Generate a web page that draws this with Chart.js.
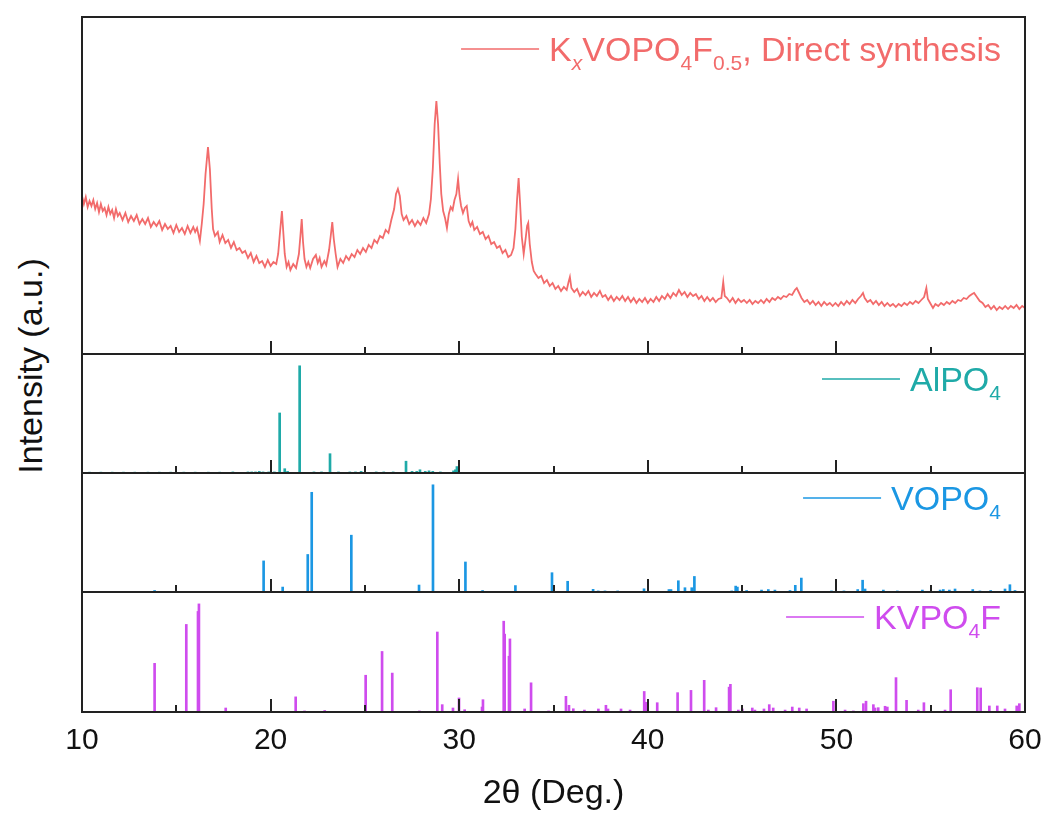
<!DOCTYPE html>
<html lang="en">
<head>
<meta charset="UTF-8">
<title>XRD patterns</title>
<script src="https://cdn.jsdelivr.net/npm/chart.js"></script>
<style>
  body { margin: 0; background: #fff; }
  #wrap { position: relative; width: 1051px; height: 821px; overflow: hidden; background: #fff; }
  #wrap canvas { position: absolute; }
  #ytitle {
    position: absolute; left: 30px; top: 366px;
    transform: translate(-50%, -50%) rotate(-90deg);
    font: 34px Arial, "Liberation Sans", sans-serif; color: #111; white-space: nowrap;
  }
</style>
</head>
<body>
<div id="wrap">
  <canvas id="c1" width="998" height="357" style="left:52px; top:7px"></canvas>
  <canvas id="c2" width="998" height="139" style="left:52px; top:344px"></canvas>
  <canvas id="c3" width="998" height="139" style="left:52px; top:463px"></canvas>
  <canvas id="c4" width="1010" height="239" style="left:52px; top:582px"></canvas>
  <div id="ytitle">Intensity (a.u.)</div>
</div>
<script>
// measured pattern, KxVOPO4F0.5 (direct synthesis)
var xrdTheta = [
  10.0, 10.1, 10.2, 10.3, 10.4, 10.5, 10.6, 10.7, 10.8, 10.9,
  11.0, 11.1, 11.2, 11.3, 11.4, 11.5, 11.6, 11.7, 11.8, 11.9,
  12.0, 12.15, 12.3, 12.45, 12.6, 12.75, 12.9, 13.05, 13.2, 13.35,
  13.5, 13.65, 13.8, 13.95, 14.1, 14.25, 14.4, 14.55, 14.7, 14.85,
  15.0, 15.15, 15.3, 15.45, 15.6, 15.75, 15.9, 16.0, 16.1, 16.25,
  16.35, 16.45, 16.55, 16.68, 16.78, 16.88, 16.95, 17.05, 17.2, 17.3,
  17.45, 17.6, 17.75, 17.9, 18.05, 18.2, 18.35, 18.5, 18.65, 18.8,
  18.95, 19.1, 19.25, 19.4, 19.55, 19.7, 19.85, 20.0, 20.15, 20.3,
  20.4, 20.5, 20.6, 20.68, 20.75, 20.85, 20.95, 21.05, 21.2, 21.35,
  21.5, 21.58, 21.65, 21.72, 21.8, 21.9, 22.0, 22.1, 22.25, 22.4,
  22.5, 22.6, 22.7, 22.85, 22.95, 23.1, 23.2, 23.27, 23.35, 23.45,
  23.55, 23.7, 23.85, 24.0, 24.15, 24.3, 24.45, 24.6, 24.75, 24.9,
  25.05, 25.2, 25.35, 25.5, 25.65, 25.8, 25.95, 26.1, 26.25, 26.4,
  26.55, 26.65, 26.75, 26.85, 26.95, 27.05, 27.2, 27.35, 27.5, 27.65,
  27.8, 27.95, 28.1, 28.25, 28.4, 28.5, 28.6, 28.7, 28.79, 28.88,
  28.97, 29.05, 29.15, 29.25, 29.35, 29.45, 29.55, 29.65, 29.75, 29.85,
  29.94, 30.02, 30.1, 30.2, 30.3, 30.4, 30.5, 30.6, 30.7, 30.8,
  30.95, 31.1, 31.25, 31.4, 31.55, 31.7, 31.85, 32.0, 32.15, 32.3,
  32.45, 32.6, 32.75, 32.88, 32.98, 33.07, 33.15, 33.23, 33.32, 33.42,
  33.52, 33.6, 33.66, 33.74, 33.85, 33.95, 34.05, 34.2, 34.35, 34.5,
  34.65, 34.8, 34.95, 35.1, 35.25, 35.4, 35.55, 35.7, 35.8, 35.87,
  35.95, 36.1, 36.25, 36.4, 36.55, 36.7, 36.85, 37.0, 37.15, 37.3,
  37.46, 37.6, 37.75, 37.9, 38.05, 38.2, 38.35, 38.5, 38.65, 38.8,
  38.95, 39.1, 39.25, 39.4, 39.55, 39.7, 39.85, 40.0, 40.15, 40.3,
  40.45, 40.6, 40.75, 40.9, 41.05, 41.2, 41.35, 41.5, 41.65, 41.8,
  41.95, 42.1, 42.25, 42.4, 42.55, 42.7, 42.85, 43.0, 43.15, 43.3,
  43.45, 43.6, 43.75, 43.9, 44.0, 44.08, 44.2, 44.35, 44.5, 44.65,
  44.8, 44.95, 45.1, 45.25, 45.4, 45.55, 45.7, 45.85, 46.0, 46.15,
  46.3, 46.45, 46.6, 46.75, 46.9, 47.05, 47.2, 47.35, 47.5, 47.65,
  47.8, 47.9, 48.0, 48.15, 48.3, 48.45, 48.6, 48.75, 48.9, 49.05,
  49.2, 49.35, 49.5, 49.65, 49.8, 49.95, 50.1, 50.25, 50.4, 50.55,
  50.7, 50.85, 51.0, 51.15, 51.3, 51.41, 51.5, 51.65, 51.8, 51.95,
  52.1, 52.25, 52.4, 52.55, 52.7, 52.85, 53.0, 53.15, 53.3, 53.45,
  53.6, 53.75, 53.9, 54.05, 54.2, 54.35, 54.5, 54.65, 54.77, 54.85,
  55.0, 55.12, 55.25, 55.4, 55.55, 55.7, 55.85, 56.0, 56.15, 56.3,
  56.45, 56.6, 56.75, 56.9, 57.05, 57.2, 57.3, 57.45, 57.6, 57.75,
  57.9, 58.05, 58.2, 58.35, 58.5, 58.65, 58.8, 58.95, 59.1, 59.25,
  59.4, 59.55, 59.7, 59.85, 60.0
];
var xrdIntensity = [
  158, 150, 157, 147, 153, 148, 154, 145, 151, 142,
  150, 143, 146, 139, 147, 140, 144, 136, 145, 138,
  141, 134, 141, 132, 138, 133, 139, 130, 135, 130,
  136, 127, 132, 128, 133, 124, 130, 125, 128, 121,
  129, 122, 126, 120, 128, 121, 127, 122, 126, 113,
  130, 150, 180, 207, 185, 145, 125, 118, 122, 112,
  119, 111, 114, 106, 112, 104, 106, 101, 103, 96,
  101, 92, 98, 91, 93, 87, 94, 88, 92, 90,
  100, 122, 143, 120, 100, 87, 92, 84, 90, 86,
  100, 118, 135, 112, 95, 87, 92, 86, 95, 99,
  91, 96, 87, 93, 89, 104, 120, 132, 115, 100,
  87, 95, 91, 98, 94, 100, 97, 104, 100, 106,
  102, 109, 106, 114, 111, 118, 116, 124, 121, 134,
  145, 160, 165, 158, 140, 134, 138, 130, 134, 128,
  133, 129, 136, 131, 140, 155, 185, 230, 253, 230,
  190, 160, 143, 136, 126, 140, 147, 144, 154, 160,
  175, 158, 148, 141, 146, 148, 133, 128, 132, 124,
  127, 120, 122, 115, 118, 110, 112, 106, 108, 101,
  104, 97, 99, 106, 125, 155, 176, 150, 117, 100,
  115, 128, 131, 110, 92, 83, 80, 76, 78, 71,
  74, 68, 71, 65, 68, 63, 67, 64, 72, 77,
  66, 62, 65, 58, 62, 59, 63, 57, 61, 58,
  63, 57, 59, 54, 58, 53, 57, 54, 58, 53,
  57, 52, 56, 51, 55, 52, 56, 51, 55, 52,
  57, 53, 58, 55, 60, 56, 61, 58, 64, 59,
  62, 57, 61, 58, 60, 55, 58, 53, 57, 53,
  56, 52, 55, 56, 72, 58, 56, 52, 56, 51,
  55, 52, 54, 51, 54, 50, 53, 51, 54, 51,
  55, 52, 56, 54, 57, 55, 58, 57, 60, 59,
  64, 66, 62, 56, 52, 54, 50, 53, 49, 52,
  48, 52, 49, 51, 48, 51, 48, 52, 49, 53,
  50, 54, 51, 55, 58, 61, 56, 52, 54, 50,
  53, 49, 52, 48, 51, 48, 50, 47, 50, 48,
  51, 49, 52, 50, 53, 51, 54, 57, 66, 55,
  50, 46, 50, 48, 51, 49, 52, 50, 53, 51,
  54, 53, 56, 55, 58, 60, 61, 57, 53, 51,
  47, 49, 45, 48, 44, 47, 45, 48, 45, 48,
  46, 49, 45, 48, 46
];

// reference stick patterns (2theta, relative intensity)
var alpo4Pos = [10.4, 11.0, 11.6, 12.2, 12.8, 13.5, 14.1, 14.7, 15.4, 16.0, 16.7, 17.3, 18.0, 18.8, 19.0, 19.2, 19.4, 19.6, 19.9, 20.2,
  20.48, 20.75, 20.9, 21.54, 22.3, 22.7, 23.15, 23.6, 24.2, 24.5, 24.8, 25.6, 26.0, 26.5, 27.18, 27.5, 27.75, 27.92, 28.2, 28.4, 28.6, 29.0, 29.7, 29.8, 29.88];
var alpo4Int = [0.8, 0.8, 0.8, 0.8, 0.8, 0.8, 0.8, 0.8, 0.8, 0.8, 0.8, 0.8, 1, 1, 1, 1, 1.5, 1, 1, 1,
  56, 4, 1.5, 100, 1, 1, 18, 1, 1, 1, 1.5, 1, 1, 1, 11, 1.5, 1.5, 3, 1.5, 2, 1.5, 1, 2, 3, 6];

var vopo4Pos = [13.85, 19.63, 20.64, 21.97, 22.18, 24.28, 27.87, 28.61, 30.33, 31.24, 32.98, 34.92, 35.75, 37.1, 37.37, 37.73, 38.4,
  39.8, 41.12, 41.23, 41.62, 41.97, 42.33, 42.47, 44.45, 44.66, 44.75, 45.24, 46.03, 46.39, 46.74, 47.54, 47.82, 48.14,
  49.74, 50.4, 51.13, 51.39, 51.52, 52.49, 53.23, 54.56, 55.5, 55.67, 55.99, 56.29, 57.23, 57.61, 58.18, 58.94, 59.2, 59.47];
var vopo4Int = [1.4, 29, 4.6, 35, 93, 53, 6.5, 100, 28, 1.4, 6, 18, 10, 2.5, 1, 1, 1,
  3, 2.3, 2.3, 10.5, 4, 4, 14.5, 1, 5.5, 4.6, 1.4, 1.8, 2.3, 1.8, 1.4, 6.2, 13,
  1, 1, 2.3, 11, 2.8, 1.8, 1, 1.8, 1.8, 2.3, 1.8, 2.8, 2.3, 1, 1.4, 2.8, 6.8, 1.4];

var kvpo4fPos = [13.85, 15.53, 16.15, 16.2, 17.62, 21.33, 21.8, 22.87, 25.04, 25.91, 26.45, 27.89, 28.84, 29.1, 29.67, 29.99, 30.29,
  31.21, 31.26, 32.36, 32.41, 32.64, 32.69, 33.47, 33.81, 34.74, 35.66, 35.82, 36.05, 36.64, 37.38, 37.78, 37.89, 38.58, 39.06,
  39.81, 39.9, 40.5, 41.58, 42.29, 42.99, 43.21, 43.62, 44.31, 44.38, 44.8, 45.01, 45.54, 45.68, 46.16, 46.44, 46.65, 47.28,
  47.66, 48.03, 48.42, 49.84, 50.46, 50.9, 51.43, 51.57, 51.96, 52.05, 52.22, 52.58, 52.7, 53.16, 53.72, 54.34, 54.64, 55.76,
  56.06, 57.47, 57.65, 58.11, 58.53, 58.94, 59.56, 59.7];
var kvpo4fInt = [45, 81, 93, 100, 3.7, 14, 1, 1.4, 34, 56, 36, 1, 74, 6.8, 3.7, 13, 2.1,
  4.6, 11.4, 84, 72, 51.6, 67.6, 2.8, 27, 1, 14.5, 6.2, 3, 1.8, 2.8, 6.2, 2.8, 2.8, 1.8,
  19, 9, 8.6, 17.9, 20, 29.3, 1.8, 4, 23, 25.6, 1.8, 2.8, 3.7, 1.8, 2.8, 6.8, 3.7, 1.8,
  4.6, 3.7, 2.8, 10, 1.8, 1, 7.7, 10, 6.8, 3.7, 4, 5.3, 4.6, 31.8, 10.8, 1.8, 8.6, 1.8,
  20.6, 22.5, 22.2, 5.6, 5.6, 2.8, 5.6, 7.7];

var majorTicks = [10, 20, 30, 40, 50, 60];
var minorTicks = [15, 25, 35, 45, 55];

var FONT = 'Arial, "Liberation Sans", sans-serif';
Chart.defaults.font.family = FONT;
Chart.defaults.color = '#111';

function pairs(xs, ys) {
  return xs.map(function (x, i) { return { x: x, y: ys[i] }; });
}

// box around the panel + inward ticks on the bottom edge
var frameTicks = {
  id: 'frameTicks',
  afterDatasetsDraw: function (chart) {
    var ctx = chart.ctx, a = chart.chartArea, x = chart.scales.x;
    ctx.save();
    ctx.strokeStyle = '#222';
    ctx.lineWidth = 2;
    ctx.strokeRect(a.left, a.top, a.right - a.left, a.bottom - a.top);
    ctx.beginPath();
    majorTicks.forEach(function (v) {
      var px = Math.round(x.getPixelForValue(v));
      ctx.moveTo(px, a.bottom); ctx.lineTo(px, a.bottom - 13);
    });
    minorTicks.forEach(function (v) {
      var px = Math.round(x.getPixelForValue(v));
      ctx.moveTo(px, a.bottom); ctx.lineTo(px, a.bottom - 7);
    });
    ctx.stroke();
    ctx.restore();
  }
};

// legend entry: short line + formula with subscripts
function labelPlugin(parts, color, dy) {
  return {
    id: 'phaseLabel',
    afterDraw: function (chart) {
      var ctx = chart.ctx, a = chart.chartArea;
      ctx.save();
      var widths = [], total = 0;
      parts.forEach(function (p) {
        ctx.font = (p.it ? 'italic ' : '') + (p.sub ? 21 : 34) + 'px ' + FONT;
        var w = ctx.measureText(p.t).width;
        widths.push(w); total += w;
      });
      var cy = a.top + dy;
      var base = cy + 12;
      var xPos = a.right - 24 - total;
      ctx.strokeStyle = color;
      ctx.lineWidth = 1.5;
      ctx.beginPath();
      ctx.moveTo(xPos - 88, cy); ctx.lineTo(xPos - 10, cy);
      ctx.stroke();
      ctx.fillStyle = color;
      ctx.textBaseline = 'alphabetic';
      parts.forEach(function (p, i) {
        ctx.font = (p.it ? 'italic ' : '') + (p.sub ? 21 : 34) + 'px ' + FONT;
        ctx.fillText(p.t, xPos, p.sub ? base + 9 : base);
        xPos += widths[i];
      });
      ctx.restore();
    }
  };
}

function hiddenScales(ymax) {
  return {
    x: { type: 'linear', min: 10, max: 60, offset: false, display: false },
    y: { min: 0, max: ymax, display: false }
  };
}

// top panel: measured pattern
new Chart(document.getElementById('c1'), {
  type: 'line',
  data: {
    datasets: [{
      data: pairs(xrdTheta, xrdIntensity),
      borderColor: '#f26b6b',
      borderWidth: 1.8,
      pointRadius: 0,
      tension: 0
    }]
  },
  options: {
    responsive: false, animation: false, devicePixelRatio: 1,
    layout: { padding: { top: 10, bottom: 10, left: 30, right: 25 } },
    scales: hiddenScales(337),
    plugins: { legend: { display: false }, tooltip: { enabled: false } }
  },
  plugins: [frameTicks, labelPlugin([
    { t: 'K' }, { t: 'x', sub: true, it: true }, { t: 'VOPO' }, { t: '4', sub: true },
    { t: 'F' }, { t: '0.5', sub: true }, { t: ', Direct synthesis' }
  ], '#f26b6b', 32)]
});

function stickChart(id, pos, vals, color, parts, withAxis) {
  var scales = hiddenScales(111);
  var pad = { top: 10, bottom: 10, left: 30, right: 25 };
  if (withAxis) {
    // wider canvas so the "60" label has room on the right
    pad.bottom = 0;
    pad.right = 37;
    scales.x = {
      type: 'linear', min: 10, max: 60, offset: false,
      grid: { display: false, drawTicks: false, offset: false },
      border: { display: false },
      ticks: { stepSize: 10, font: { size: 30 }, color: '#111', padding: 11, maxRotation: 0, autoSkip: false },
      title: { display: true, text: '2θ (Deg.)', font: { size: 34 }, color: '#111', padding: { top: 0, bottom: 7 } },
      afterFit: function (s) { s.height = 109; }
    };
  }
  return new Chart(document.getElementById(id), {
    type: 'bar',
    data: {
      datasets: [{
        data: pairs(pos, vals),
        backgroundColor: color,
        borderWidth: 0,
        barThickness: 2
      }]
    },
    options: {
      responsive: false, animation: false, devicePixelRatio: 1,
      layout: { padding: pad },
      scales: scales,
      plugins: { legend: { display: false }, tooltip: { enabled: false } }
    },
    plugins: [frameTicks, labelPlugin(parts, color, 25)]
  });
}

stickChart('c2', alpo4Pos, alpo4Int, '#1faaa8', [{ t: 'AlPO' }, { t: '4', sub: true }], false);
stickChart('c3', vopo4Pos, vopo4Int, '#1b97e3', [{ t: 'VOPO' }, { t: '4', sub: true }], false);
stickChart('c4', kvpo4fPos, kvpo4fInt, '#cf4cee', [{ t: 'KVPO' }, { t: '4', sub: true }, { t: 'F' }], true);
</script>
</body>
</html>
